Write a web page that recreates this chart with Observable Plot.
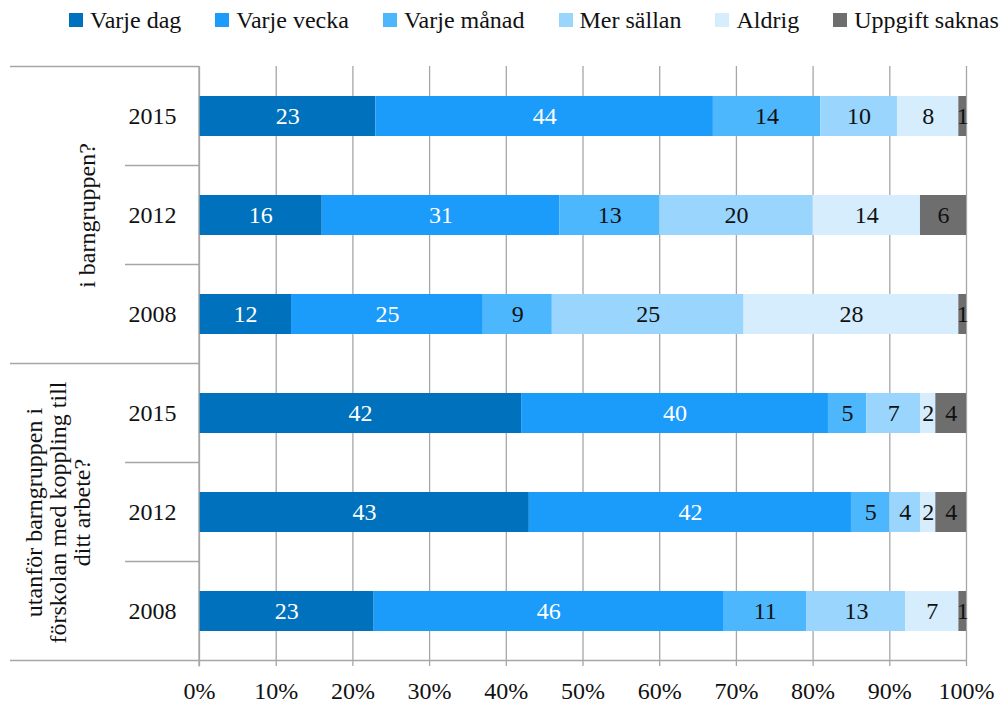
<!DOCTYPE html>
<html><head><meta charset="utf-8">
<script src="https://cdn.jsdelivr.net/npm/d3@7"></script>
<script src="https://cdn.jsdelivr.net/npm/@observablehq/plot@0.6"></script>
<style>
body{margin:0;background:#fff;font-family:"Liberation Serif",serif;}
#wrap{position:relative;width:1008px;height:704px;}
#legend{position:absolute;left:69px;top:4px;height:32px;display:flex;gap:34px;align-items:center;font-size:24px;color:#111;white-space:nowrap;}
.item{display:flex;align-items:center;gap:7px;}
.sw{width:14px;height:14px;display:inline-block;}
svg{position:absolute;left:0;top:0;}
</style></head><body>
<div id="wrap"><div id="legend"></div></div>
<script>
const categories = ["Varje dag","Varje vecka","Varje månad","Mer sällan","Aldrig","Uppgift saknas"];
const colors = ["#0071bc","#1b9bfa","#4cb7fd","#99d5fd","#d5edfd","#6e6e6e"];
const labelColors = ["#ffffff","#ffffff","#111111","#111111","#111111","#111111"];
const groupLabels = ["i barngruppen?","utanför barngruppen i\nförskolan med koppling till\nditt arbete?"];
const years = ["2015","2012","2008"];
// i barngruppen?
const inside2015 = [23,44,14,10,8,1];
const inside2012 = [16,31,13,20,14,6];
const inside2008 = [12,25,9,25,28,1];
// utanför barngruppen i förskolan med koppling till ditt arbete?
const outside2015 = [42,40,5,7,2,4];
const outside2012 = [43,42,5,4,2,4];
const outside2008 = [23,46,11,13,7,1];
const xTicks = [0,0.1,0.2,0.3,0.4,0.5,0.6,0.7,0.8,0.9,1];

const rows = [
  {group:0, year:years[0], values:inside2015},
  {group:0, year:years[1], values:inside2012},
  {group:0, year:years[2], values:inside2008},
  {group:1, year:years[0], values:outside2015},
  {group:1, year:years[1], values:outside2012},
  {group:1, year:years[2], values:outside2008}
];
rows.forEach(r => r.key = r.group + "|" + r.year);
const keys = rows.map(r => r.key);
const data = [];
rows.forEach(r => r.values.forEach((v,i) => data.push({key:r.key, cat:categories[i], ci:i, value:v})));
const groupData = groupLabels.map((g,i) => ({key: i + "|" + years[1], label: g}));

// legend
const leg = document.getElementById("legend");
categories.forEach((c,i) => {
  const it = document.createElement("div"); it.className = "item";
  const sw = document.createElement("span"); sw.className = "sw"; sw.style.background = colors[i];
  const tx = document.createElement("span"); tx.textContent = c;
  it.appendChild(sw); it.appendChild(tx); leg.appendChild(it);
});

const gridColor = "#a6a6a6";
const stackOpts = {x:"value", y:"key", z:"cat", order: categories, offset:"normalize"};
const plot = Plot.plot({
  width:1008, height:704,
  marginLeft:199, marginRight:42, marginTop:66, marginBottom:44,
  style:{fontFamily:"Liberation Serif, serif", fontSize:"24px", color:"#111", background:"transparent"},
  x:{domain:[0,1], axis:null},
  y:{domain:keys, paddingInner:0.6, paddingOuter:0.3, axis:null},
  color:{domain:categories, range:colors},
  marks:[
    Plot.ruleX(xTicks, {x: d => d, stroke:gridColor, strokeWidth:1.3}),
    Plot.barX(data, Plot.stackX({...stackOpts, fill:"cat"})),
    Plot.text(data, Plot.stackX({...stackOpts, text:"value", fill:{value: d => labelColors[d.ci], scale:null}, fontSize:24})),
    Plot.axisX(xTicks, {label:null, tickFormat: d => Math.round(d*100) + "%", tickSize:6, tickPadding:15, stroke:gridColor, strokeWidth:1.3, fontSize:24, fill:"#111"}),
    Plot.text(rows, {y:"key", text:"year", frameAnchor:"left", dx:-47, textAnchor:"middle", fontSize:24, fill:"#111"}),
    Plot.text(groupData.slice(0,1), {y:"key", text:"label", frameAnchor:"left", dx:-112, rotate:-90, textAnchor:"middle", lineAnchor:"middle", fontSize:24, fill:"#111"}),
    Plot.text(groupData.slice(1), {y:"key", text:"label", frameAnchor:"left", dx:-141, rotate:-90, textAnchor:"middle", lineAnchor:"middle", lineHeight:1.0, fontSize:24, fill:"#111"})
  ]
});
document.getElementById("wrap").insertBefore(plot, document.getElementById("legend"));

// category-axis structure lines, positioned from the plot's own scales
const ys = plot.scale("y"), xs = plot.scale("x");
const svgSel = d3.select(plot);
const xLeft = xs.apply(0), xRight = xs.apply(1);
const bandPad = (ys.step - ys.bandwidth) / 2;
const lines = svgSel.append("g").attr("stroke", gridColor).attr("stroke-width", 1.3);
const yTop = ys.apply(keys[0]) - bandPad;
const yBottom = ys.apply(keys[keys.length-1]) + ys.bandwidth + bandPad;
lines.append("line").attr("x1", xLeft).attr("x2", xLeft).attr("y1", yTop).attr("y2", yBottom + 6);
lines.append("line").attr("x1", xLeft - 189).attr("x2", xLeft).attr("y1", yTop).attr("y2", yTop);
lines.append("line").attr("x1", xLeft - 189).attr("x2", xRight).attr("y1", yBottom).attr("y2", yBottom);
rows.forEach((r,i) => {
  if (i === 0) return;
  const yy = ys.apply(r.key) - bandPad;
  const newGroup = r.group !== rows[i-1].group;
  lines.append("line").attr("x1", newGroup ? xLeft - 189 : xLeft - 74).attr("x2", xLeft).attr("y1", yy).attr("y2", yy);
});
</script>
</body></html>
